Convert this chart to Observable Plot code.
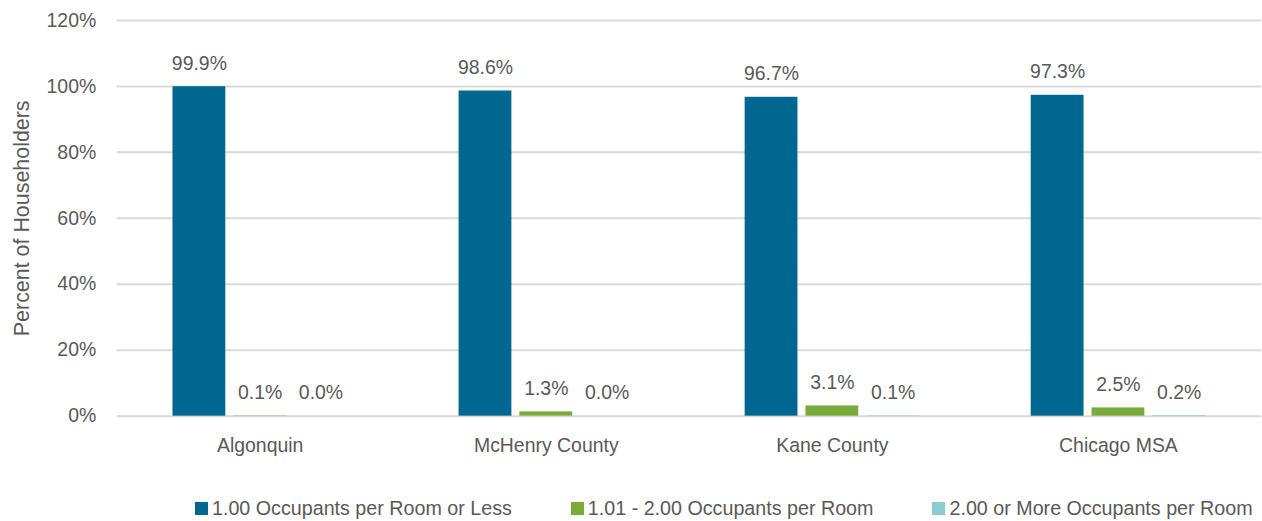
<!DOCTYPE html>
<html>
<head>
<meta charset="utf-8">
<script src="https://cdn.jsdelivr.net/npm/d3@7"></script>
<script src="https://cdn.jsdelivr.net/npm/@observablehq/plot@0.6"></script>
<style>
  html, body { margin: 0; padding: 0; background: #fff; overflow: hidden; width: 1262px; height: 521px; }
  #chart svg { display: block; }
  .legend { display: flex; align-items: center; padding-left: 195px; height: 26px; margin-top: 22px;
            font-family: "Liberation Sans", Arial, sans-serif;
            font-size: 19.7px; color: #595959; white-space: nowrap; }
  .legend .item { display: flex; align-items: center; margin-right: 59px; }
  .legend .sw { width: 13px; height: 13px; margin-right: 4px; display: inline-block; }
</style>
</head>
<body>
<div id="chart"></div>
<div class="legend" id="legend"></div>
<script>
const categories = ["Algonquin", "McHenry County", "Kane County", "Chicago MSA"];
const seriesNames = ["1.00 Occupants per Room or Less", "1.01 - 2.00 Occupants per Room", "2.00 or More Occupants per Room"];
const lowOccupancy = [99.9, 98.6, 96.7, 97.3];
const midOccupancy = [0.1, 1.3, 3.1, 2.5];
const highOccupancy = [0.0, 0.0, 0.1, 0.2];
const yTicks = [0, 20, 40, 60, 80, 100, 120];
const colors = ["#006890", "#7aab3a", "#8ccbd0"];

const seriesValues = [lowOccupancy, midOccupancy, highOccupancy];
const data = categories.flatMap((cat, i) =>
  seriesNames.map((s, j) => ({category: cat, series: s, value: seriesValues[j][i]}))
);

const font = '"Liberation Sans", Arial, sans-serif';

const chart = Plot.plot({
  width: 1266,
  height: 475,
  marginLeft: 115,
  marginRight: 0,
  marginTop: 20,
  marginBottom: 58,
  style: {fontFamily: font, fontSize: "19.5px", color: "#595959", background: "#fff"},
  fx: {domain: categories, padding: 0, axis: null},
  x: {domain: seriesNames, paddingInner: 8 / 62, paddingOuter: 0.885, axis: null},
  y: {domain: [0, 120], axis: null},
  color: {domain: seriesNames, range: colors},
  marks: [
    Plot.ruleY(yTicks, {stroke: "#d9d9d9", strokeWidth: 2}),
    Plot.barY(data, {fx: "category", x: "series", y: "value", fill: "series"}),
    Plot.text(data, {
      fx: "category", x: "series", y: "value",
      text: d => d.value.toFixed(1) + "%",
      dy: -17, lineAnchor: "bottom", fill: "#595959", fontSize: 19.5
    }),
    Plot.axisY(yTicks, {
      tickSize: 0, tickPadding: 21, tickFormat: d => d + "%", fontSize: 19.5, label: null
    }),
    Plot.axisY([], {
      tickSize: 0, fontSize: 21.5,
      label: "Percent of Householders", labelAnchor: "center", labelArrow: "none", labelOffset: 104
    }),
    Plot.axisFx({anchor: "bottom", tickSize: 0, tickPadding: 22, label: null, fontSize: 19.5})
  ]
});
document.getElementById("chart").appendChild(chart);

const legend = document.getElementById("legend");
seriesNames.forEach((s, i) => {
  const item = document.createElement("div");
  item.className = "item";
  const sw = document.createElement("span");
  sw.className = "sw";
  sw.style.background = colors[i];
  const label = document.createElement("span");
  label.textContent = s;
  item.appendChild(sw);
  item.appendChild(label);
  legend.appendChild(item);
});
</script>
</body>
</html>
